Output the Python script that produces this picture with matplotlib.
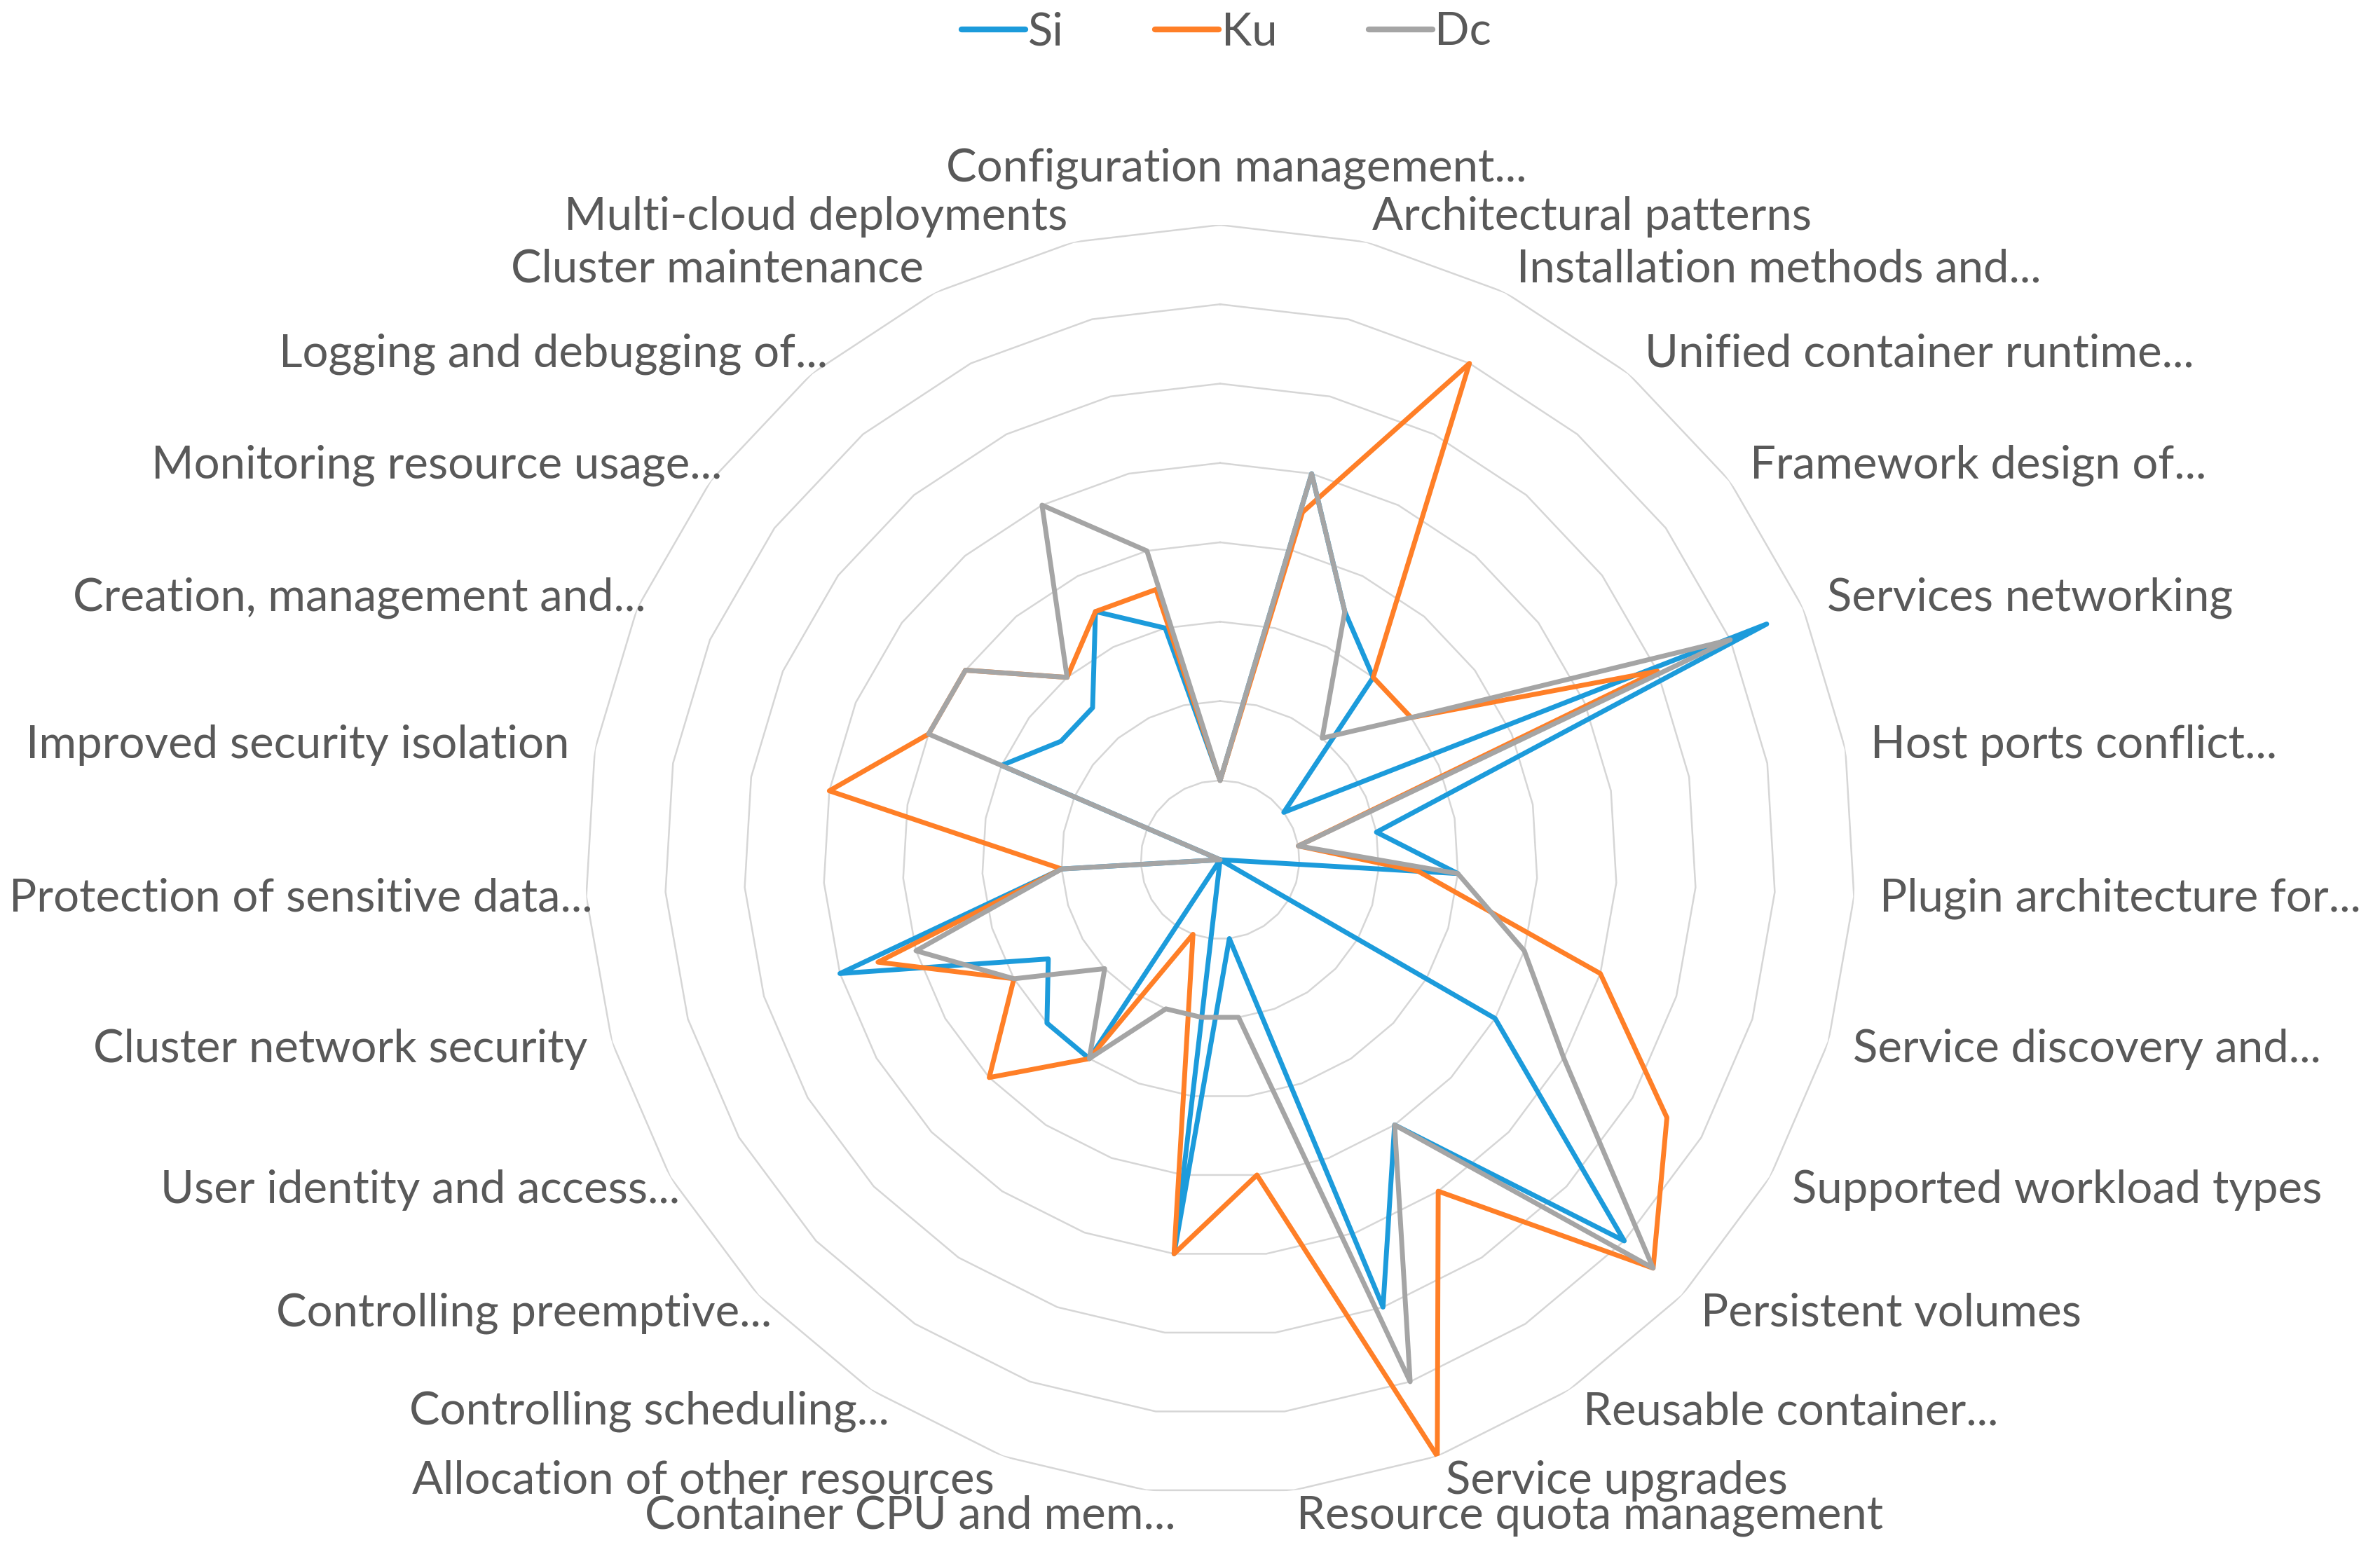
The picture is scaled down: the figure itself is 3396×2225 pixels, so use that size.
import numpy as np
import matplotlib
matplotlib.use("Agg")
import matplotlib.pyplot as plt
from matplotlib.lines import Line2D

categories = [
    "Configuration management...",
    "Architectural patterns",
    "Installation methods and...",
    "Unified container runtime...",
    "Framework design of...",
    "Services networking",
    "Host ports conflict...",
    "Plugin architecture for...",
    "Service discovery and...",
    "Supported workload types",
    "Persistent volumes",
    "Reusable container...",
    "Service upgrades",
    "Resource quota management",
    "Container CPU and mem...",
    "Allocation of other resources",
    "Controlling scheduling...",
    "Controlling preemptive...",
    "User identity and access...",
    "Cluster network security",
    "Protection of sensitive data...",
    "Improved security isolation",
    "Creation, management and...",
    "Monitoring resource usage...",
    "Logging and debugging of...",
    "Cluster maintenance",
    "Multi-cloud deployments",
]

series_names = ["Si", "Ku", "Dc"]
si = [2, 10, 7, 6, 2, 15, 4, 6, 0, 8, 14, 8, 12, 2, 10, 0, 6, 6, 5, 10, 4, 0, 6, 5, 5, 7, 6]
ku = [2, 9, 14, 6, 6, 12, 2, 5, 10, 13, 15, 10, 16, 8, 10, 2, 6, 8, 6, 9, 4, 10, 8, 8, 6, 7, 7]
dc = [2, 10, 7, 4, 6, 14, 2, 6, 8, 10, 15, 8, 14, 4, 4, 4, 6, 4, 6, 8, 4, 0, 8, 8, 6, 10, 8]
ring_levels = [2, 4, 6, 8, 10, 12, 14, 16]

colors = ["#1C9BDB", "#FF7F27", "#A5A5A5"]
text_color = "#595959"
grid_color = "#D6D6D6"
FONT = ["Lato", "DejaVu Sans"]
FS = 47

W, H = 3396, 2225
fig = plt.figure(figsize=(W / 100, H / 100), dpi=100)
fig.patch.set_facecolor("white")

cx, cy, R = 1741, 1227, 906
ax = fig.add_axes([(cx - R) / W, (H - cy - R) / H, 2 * R / W, 2 * R / H], projection="polar")
ax.set_theta_zero_location("N")
ax.set_theta_direction(-1)
ax.set_ylim(0, ring_levels[-1])
ax.grid(False)
ax.set_xticks([])
ax.set_yticks([])
ax.spines["polar"].set_visible(False)
ax.patch.set_alpha(0)

n = len(categories)
theta = np.arange(n) * 2 * np.pi / n
theta_c = np.append(theta, theta[0])

for lv in ring_levels:
    ax.plot(theta_c, [lv] * (n + 1), color=grid_color, lw=1.8, zorder=1)

for vals, col in zip([si, ku, dc], colors):
    v = np.append(vals, vals[0])
    ax.plot(theta_c, v, color=col, lw=5.0, solid_joinstyle="round", solid_capstyle="round", zorder=3)

r_lab = ring_levels[-1] + 0.65
for t, lab in zip(theta, categories):
    s = np.sin(t)
    truncated = lab.endswith("...")
    if abs(s) < 1e-6:
        ha, va = "center", "bottom"
        rr = ring_levels[-1] + 0.9
        dx = 17 if truncated else 0
    else:
        ha = "left" if s > 0 else "right"
        va = "center"
        rr = r_lab
        dx = 33 if (truncated and s < 0) else 0
    ax.annotate(lab, xy=(t, rr), xytext=(dx, 0), textcoords="offset points",
                ha=ha, va=va, fontsize=FS, color=text_color, family=FONT,
                annotation_clip=False)

handles = [Line2D([], [], color=c, lw=6, solid_capstyle="round") for c in colors]
leg = fig.legend(handles, series_names, loc="center", bbox_to_anchor=(0.5 + 52 / W, 1 - 46 / H), ncol=3,
                 frameon=False, handlelength=1.4, handletextpad=0.05, columnspacing=2.0,
                 prop={"family": FONT, "size": FS})
for txt in leg.get_texts():
    txt.set_color(text_color)

fig.savefig("out.png", dpi=100, facecolor="white")
